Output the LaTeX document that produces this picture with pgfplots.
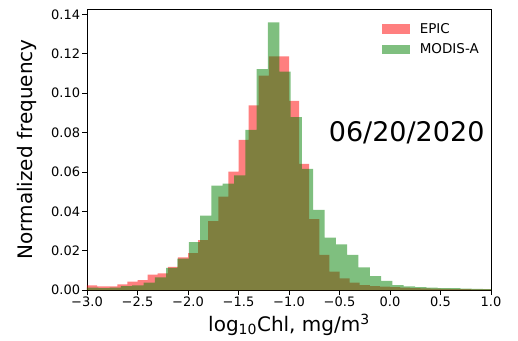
\documentclass[border=0pt]{standalone}
\usepackage{fontspec}
\setmainfont{DejaVu Sans}
\usepackage{pgfplots}
\pgfplotsset{compat=1.18}
\usepackage{pgfplotstable}

\pgfplotstableread{
x y
-3.0 0.0023
-2.9 0.0018
-2.8 0.0018
-2.7 0.0029
-2.6 0.0042
-2.5 0.0050
-2.4 0.0078
-2.3 0.0085
-2.2 0.0118
-2.1 0.0166
-2.0 0.0188
-1.9 0.0254
-1.8 0.0350
-1.7 0.0475
-1.6 0.0602
-1.5 0.0763
-1.4 0.0938
-1.3 0.1090
-1.2 0.1187
-1.1 0.1187
-1.0 0.0961
-0.9 0.0641
-0.8 0.0360
-0.7 0.0178
-0.6 0.0093
-0.5 0.0059
-0.4 0.0037
-0.3 0.0025
-0.2 0.0020
-0.1 0.0017
0.0 0.0014
0.1 0.0012
0.2 0.0010
0.3 0.0008
0.4 0.0007
0.5 0.0006
0.6 0.0005
0.7 0.0004
0.8 0.0003
0.9 0.0003
1.0 0.0003
}\epic

\pgfplotstableread{
x y
-3.000 0.0012
-2.888 0.0010
-2.776 0.0012
-2.664 0.0020
-2.552 0.0024
-2.440 0.0037
-2.328 0.0064
-2.216 0.0112
-2.104 0.0160
-1.992 0.0243
-1.880 0.0378
-1.768 0.0530
-1.656 0.0540
-1.544 0.0582
-1.432 0.0814
-1.320 0.1122
-1.208 0.1360
-1.096 0.1110
-0.984 0.0878
-0.872 0.0616
-0.760 0.0407
-0.648 0.0266
-0.536 0.0232
-0.424 0.0178
-0.312 0.0115
-0.200 0.0071
-0.088 0.0046
0.024 0.0025
0.136 0.0019
0.248 0.0015
0.360 0.0012
0.472 0.0010
0.584 0.0009
0.696 0.0007
0.808 0.0006
0.920 0.0005
1.032 0.0005
}\modis

\begin{document}
\begin{tikzpicture}
\useasboundingbox (-87pt,-50pt) rectangle (431pt,290pt);
\begin{axis}[
  at={(0,0)}, anchor=south west,
  scale only axis, width=404pt, height=281pt,
  xmin=-3, xmax=1, ymin=0, ymax=0.1428,
  axis line style={black, line width=0.8pt},
  tick align=outside, xtick pos=left, ytick pos=left,
  major tick length=4.7pt,
  tick style={black, line width=0.8pt},
  xtick={-3,-2.5,-2,-1.5,-1,-0.5,0,0.5,1},
  xticklabels={−3.0,−2.5,−2.0,−1.5,−1.0,−0.5,0.0,0.5,1.0},
  ytick={0,0.02,0.04,0.06,0.08,0.1,0.12,0.14},
  yticklabels={0.00,0.02,0.04,0.06,0.08,0.10,0.12,0.14},
  ticklabel style={font=\fontsize{13}{15}\selectfont},
  xticklabel style={inner sep=2pt},
  yticklabel style={inner sep=2pt},
  xlabel={log\textsubscript{10}Chl, mg/m\textsuperscript{3}},
  ylabel={Normalized frequency},
  xlabel style={font=\fontsize{20}{24}\selectfont, at={(axis description cs:0.5,0)}, anchor=base, yshift=-41.7pt},
  ylabel style={font=\fontsize{20}{24}\selectfont, at={(axis description cs:0,0.5)}, anchor=center, yshift=60pt},
  legend style={at={(axis description cs:1,1)}, anchor=north east, xshift=-10pt, yshift=-12pt,
    draw=none, fill=none, font=\fontsize{13.5}{16}\selectfont, row sep=5pt, inner sep=0pt,
    /tikz/every odd column/.append style={column sep=8pt}},
  legend cell align=left,
  legend image code/.code={\fill[#1] (0pt,-4.8pt) rectangle (27.7pt,4.8pt);},
]
\addplot[draw=none, fill=red, fill opacity=0.5, const plot] table[x=x,y=y] {\epic} \closedcycle;
\addlegendentry{EPIC}
\addplot[draw=none, fill={rgb,1:red,0;green,0.5;blue,0}, fill opacity=0.5, const plot] table[x=x,y=y] {\modis} \closedcycle;
\addlegendentry{MODIS-A}
\node[font=\fontsize{27}{32}\selectfont, anchor=base, inner sep=0pt] at (axis cs:0.165,0.0753) {06/20/2020};
\end{axis}
\end{tikzpicture}
\end{document}
